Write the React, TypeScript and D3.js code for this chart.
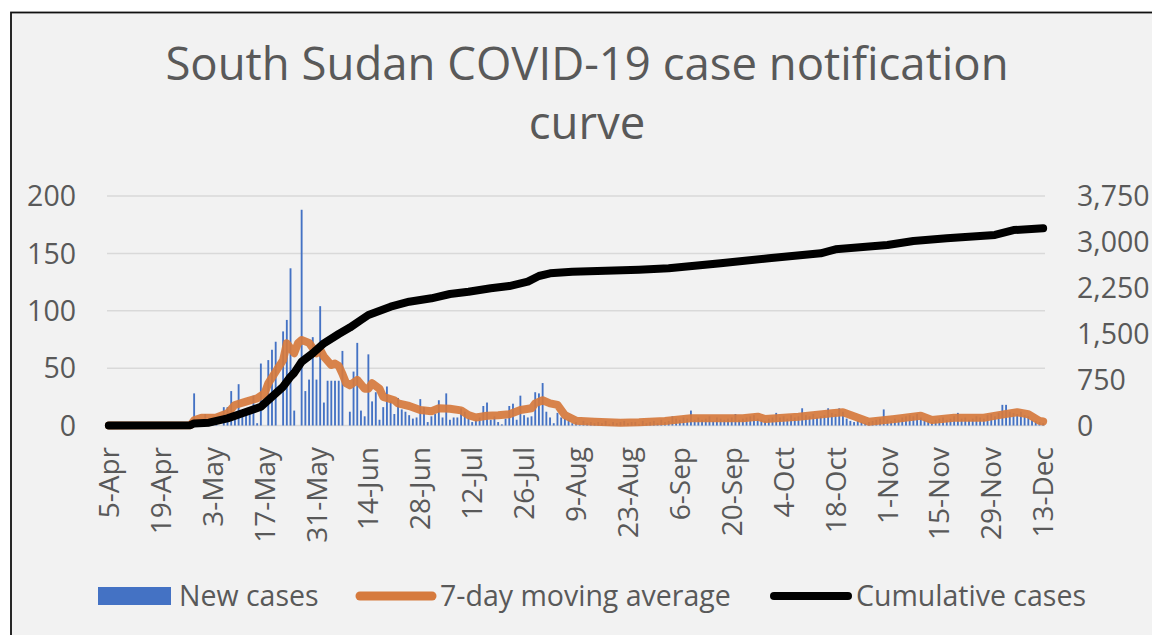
import React from "react";
import * as d3 from "d3";

// one category per day, 5-Apr .. 13-Dec 2020
const firstDay = new Date(2020, 3, 5);
const lastDay = new Date(2020, 11, 13);
const fmtDay = d3.timeFormat("%-d-%b");
const categories = d3.timeDay.range(firstDay, d3.timeDay.offset(lastDay, 1)).map(fmtDay);

const tickLabels = [
  "5-Apr", "19-Apr", "3-May", "17-May", "31-May", "14-Jun", "28-Jun", "12-Jul", "26-Jul",
  "9-Aug", "23-Aug", "6-Sep", "20-Sep", "4-Oct", "18-Oct", "1-Nov", "15-Nov", "29-Nov", "13-Dec",
];
const leftTicks = [0, 50, 100, 150, 200];
const rightTicks = [0, 750, 1500, 2250, 3000, 3750];

// daily new cases, one value per category
const newCases = [
  1, 0, 1, 0, 0, 2, 0,
  0, 0, 0, 0, 0, 0, 0,
  0, 0, 0, 0, 0, 0, 1,
  0, 0, 28, 0, 0, 10, 0,
  2, 1, 0, 16, 16, 30, 6,
  36, 13, 12, 14, 26, 2, 54,
  0, 57, 66, 73, 0, 82, 92,
  137, 13, 0, 188, 30, 40, 77,
  40, 104, 20, 39, 39, 39, 39,
  65, 0, 12, 47, 72, 13, 8,
  62, 21, 29, 5, 16, 34, 21,
  10, 24, 14, 12, 9, 6, 7,
  23, 16, 3, 8, 10, 22, 7,
  28, 5, 7, 7, 15, 12, 6,
  3, 5, 7, 17, 20, 5, 8,
  3, 1, 6, 17, 19, 5, 26,
  9, 7, 8, 29, 28, 37, 12,
  7, 2, 11, 7, 6, 5,
  2, 3, 1, 4, 2, 3, 2,
  3, 2, 4, 1, 3, 2, 3,
  4, 2, 3, 3, 1, 4, 2,
  3, 4, 2, 5, 3, 4, 8,
  6, 5, 7, 6, 13, 5, 7,
  5, 6, 8, 4, 7, 6, 5,
  6, 7, 10, 5, 6, 7, 8,
  9, 6, 5, 4, 6, 7, 11,
  7, 8, 6, 9, 7, 8, 15,
  9, 8, 10, 7, 8, 9, 15,
  11, 10, 15, 12, 6, 4, 3,
  4, 3, 2, 3, 4, 5, 6,
  14, 5, 4, 6, 5, 7, 8,
  9, 8, 10, 7, 5, 4, 3,
  5, 6, 7, 5, 6, 8, 11,
  6, 7, 5, 6, 8, 7, 6,
  9, 10, 8, 11, 18, 18, 12,
  11, 10, 12, 9, 8, 5, 4,
  3, 2,
];

// 7-day moving average
const movingAverage: [string, number][] = [
  ["5-Apr", 0], ["27-Apr", 0.3], ["28-Apr", 4.5], ["30-Apr", 6.8], ["4-May", 7], ["7-May", 10.6],
  ["9-May", 17.9], ["12-May", 20.8], ["15-May", 23.7], ["17-May", 28], ["18-May", 36.8], ["20-May", 47],
  ["22-May", 57], ["23-May", 71.6], ["25-May", 63], ["26-May", 71.6], ["27-May", 74.5], ["29-May", 72],
  ["31-May", 63], ["1-Jun", 66], ["2-Jun", 60], ["4-Jun", 52.7], ["5-Jun", 54], ["6-Jun", 52],
  ["7-Jun", 45], ["8-Jun", 36.8], ["9-Jun", 35], ["11-Jun", 39.7], ["13-Jun", 32], ["14-Jun", 32],
  ["15-Jun", 36.8], ["17-Jun", 32], ["18-Jun", 25], ["21-Jun", 22], ["22-Jun", 19.3], ["25-Jun", 17],
  ["28-Jun", 13.5], ["1-Jul", 12.5], ["3-Jul", 15], ["6-Jul", 14.6], ["9-Jul", 13.2], ["11-Jul", 9],
  ["13-Jul", 7], ["16-Jul", 8.5], ["19-Jul", 9], ["22-Jul", 9.8], ["25-Jul", 13.5], ["28-Jul", 15],
  ["29-Jul", 19.3], ["31-Jul", 22], ["2-Aug", 19.3], ["4-Aug", 17.9], ["6-Aug", 9], ["9-Aug", 4.2],
  ["14-Aug", 3.3], ["21-Aug", 2.4], ["26-Aug", 2.8], ["2-Sep", 4], ["9-Sep", 6.3], ["23-Sep", 6.3],
  ["27-Sep", 7.7], ["29-Sep", 5.7], ["8-Oct", 7.7], ["17-Oct", 10.6], ["20-Oct", 11.5], ["25-Oct", 5.7],
  ["27-Oct", 3.3], ["3-Nov", 5.7], ["10-Nov", 8.5], ["13-Nov", 4.8], ["19-Nov", 6.8], ["27-Nov", 6.8],
  ["1-Dec", 9], ["6-Dec", 11.5], ["9-Dec", 9.8], ["12-Dec", 4], ["13-Dec", 3.5],
];

// cumulative cases (right axis)
const cumulative: [string, number][] = [
  ["5-Apr", 1], ["27-Apr", 6], ["28-Apr", 34], ["2-May", 46], ["7-May", 117], ["11-May", 199],
  ["16-May", 307], ["19-May", 471], ["22-May", 634], ["24-May", 797], ["25-May", 860], ["27-May", 1042],
  ["30-May", 1180], ["2-Jun", 1343], ["6-Jun", 1495], ["9-Jun", 1600], ["12-Jun", 1724], ["14-Jun", 1806],
  ["20-Jun", 1941], ["25-Jun", 2023], ["1-Jul", 2078], ["6-Jul", 2149], ["11-Jul", 2186], ["17-Jul", 2242],
  ["22-Jul", 2279], ["27-Jul", 2350], ["30-Jul", 2443], ["2-Aug", 2487], ["8-Aug", 2513], ["17-Aug", 2530],
  ["26-Aug", 2545], ["3-Sep", 2569], ["17-Sep", 2650], ["30-Sep", 2732], ["14-Oct", 2814], ["18-Oct", 2879],
  ["1-Nov", 2949], ["8-Nov", 3015], ["17-Nov", 3059], ["30-Nov", 3113], ["5-Dec", 3194], ["13-Dec", 3222],
];

const W = 1152;
const H = 635;
const font = "'Open Sans', sans-serif";
const textColor = "#595959";

export default function App() {
  const plot = { left: 107, right: 1045, top: 196, bottom: 425.5 };

  const x = d3.scaleBand<string>()
    .domain(categories)
    .range([plot.left, plot.right])
    .paddingInner(0.5)
    .paddingOuter(0.25);
  const cx = (c: string) => (x(c) ?? 0) + x.bandwidth() / 2;

  const yLeft = d3.scaleLinear().domain([0, 200]).range([plot.bottom, plot.top]);
  const yRight = d3.scaleLinear().domain([0, 3750]).range([plot.bottom, plot.top]);

  const maLine = d3.line<[string, number]>().x((d) => cx(d[0])).y((d) => yLeft(d[1]));
  const cumLine = d3.line<[string, number]>().x((d) => cx(d[0])).y((d) => yRight(d[1]));

  return (
    <svg width={W} height={H} style={{ position: "absolute", left: 0, top: 0, display: "block" }} fontFamily={font}>
      <rect x={0} y={0} width={W} height={H} fill="#fff" />
      <rect x={11} y={12.5} width={W + 20} height={H + 20} fill="#f2f2f2" stroke="#111" strokeWidth={1.8} />

      <text x={587} y={80} textAnchor="middle" fontSize={45.5} fontWeight={400} fill={textColor}>
        South Sudan COVID-19 case notification
      </text>
      <text x={587} y={139} textAnchor="middle" fontSize={45.5} fontWeight={400} fill={textColor}>
        curve
      </text>

      {leftTicks.map((t) => (
        <g key={"g" + t}>
          <line x1={plot.left} x2={plot.right} y1={yLeft(t)} y2={yLeft(t)} stroke="#d9d9d9" strokeWidth={1.5} />
          <text x={76} y={yLeft(t)} dy="0.36em" textAnchor="end" fontSize={28.5} fill={textColor}>
            {t}
          </text>
        </g>
      ))}
      {rightTicks.map((t) => (
        <text key={"r" + t} x={1077} y={yRight(t)} dy="0.36em" textAnchor="start" fontSize={28.5} fill={textColor}>
          {d3.format(",")(t)}
        </text>
      ))}

      {tickLabels.map((c) => (
        <text
          key={c}
          transform={`translate(${cx(c)},447) rotate(-90)`}
          dy="0.36em"
          textAnchor="end"
          fontSize={28}
          fill={textColor}
        >
          {c}
        </text>
      ))}

      {newCases.map((v, i) => (
        <rect
          key={i}
          x={x(categories[i])}
          y={yLeft(v)}
          width={x.bandwidth()}
          height={plot.bottom - yLeft(v)}
          fill="#4472c4"
        />
      ))}

      <path d={maLine(movingAverage) ?? ""} fill="none" stroke="#d67a3d" strokeOpacity={0.92} strokeWidth={8}
        strokeLinejoin="round" strokeLinecap="round" />
      <path d={cumLine(cumulative) ?? ""} fill="none" stroke="#000" strokeWidth={8}
        strokeLinejoin="round" strokeLinecap="round" />

      <g fontSize={28.5} fill={textColor}>
        <rect x={98} y={587} width={73} height={18} fill="#4472c4" />
        <text x={179} y={596} dy="0.36em">New cases</text>
        <line x1={360} x2={432} y1={596} y2={596} stroke="#d67a3d" strokeWidth={9} strokeLinecap="round" />
        <text x={440} y={596} dy="0.36em">7-day moving average</text>
        <line x1={774} x2={848} y1={596} y2={596} stroke="#000" strokeWidth={8} strokeLinecap="round" />
        <text x={856} y={596} dy="0.36em">Cumulative cases</text>
      </g>
    </svg>
  );
}
